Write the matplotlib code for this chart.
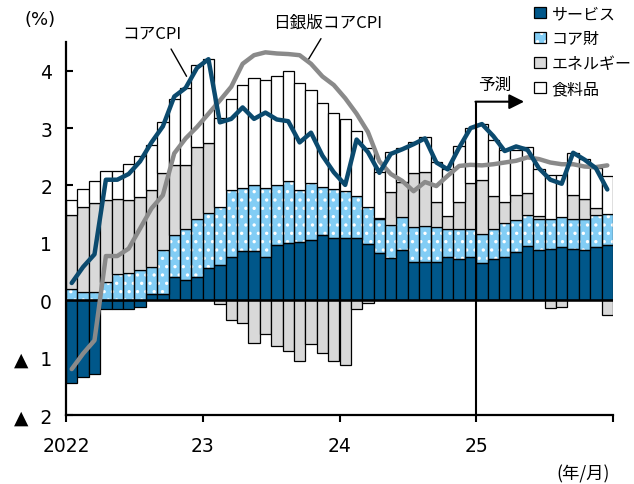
import matplotlib
matplotlib.use("Agg")
import matplotlib.pyplot as plt
from matplotlib.patches import Patch
from matplotlib.legend_handler import HandlerTuple
import numpy as np

# ---- data (2022/01 - 2025/12, monthly; 2025 onward is forecast) ----
services = [-1.45, -1.34, -1.29, -0.16, -0.16, -0.16, -0.11, 0.10, 0.10, 0.41, 0.36, 0.41,
            0.56, 0.61, 0.76, 0.86, 0.86, 0.76, 0.96, 1.00, 1.01, 1.05, 1.14, 1.08,
            1.08, 1.08, 0.98, 0.83, 0.73, 0.88, 0.67, 0.67, 0.67, 0.76, 0.72, 0.76,
            0.65, 0.72, 0.76, 0.84, 0.95, 0.88, 0.90, 0.92, 0.89, 0.88, 0.92, 0.96]
core_goods = [0.20, 0.15, 0.15, 0.31, 0.45, 0.47, 0.52, 0.48, 0.78, 0.72, 0.88, 1.00,
              0.96, 1.02, 1.16, 1.09, 1.15, 1.19, 1.05, 1.08, 0.91, 1.00, 0.84, 0.86,
              0.83, 0.73, 0.65, 0.59, 0.58, 0.57, 0.61, 0.63, 0.60, 0.48, 0.52, 0.49,
              0.50, 0.52, 0.59, 0.56, 0.54, 0.53, 0.52, 0.53, 0.52, 0.54, 0.56, 0.55]
energy = [1.29, 1.47, 1.54, 1.44, 1.32, 1.28, 1.28, 1.34, 1.34, 1.22, 1.11, 1.26,
          1.22, -0.07, -0.34, -0.40, -0.74, -0.58, -0.79, -0.88, -1.06, -0.77, -0.92, -1.06,
          -1.12, -0.15, -0.05, 0.02, 0.58, 0.61, 0.94, 0.94, 0.45, 0.22, 0.48, 0.79,
          0.95, 0.57, 0.37, 0.43, 0.37, 0.06, -0.13, -0.12, 0.42, 0.34, 0.12, -0.25]
food = [0.25, 0.32, 0.39, 0.51, 0.49, 0.62, 0.71, 0.79, 0.88, 1.15, 1.35, 1.43,
        1.47, 1.54, 1.58, 1.80, 1.87, 1.88, 1.90, 1.92, 1.86, 1.62, 1.45, 1.33,
        1.24, 1.14, 1.02, 0.80, 0.70, 0.59, 0.53, 0.60, 0.69, 0.82, 0.97, 0.96,
        0.97, 0.99, 0.89, 0.79, 0.81, 0.82, 0.76, 0.73, 0.74, 0.70, 0.70, 0.65]
core_cpi = [0.30, 0.58, 0.80, 2.10, 2.10, 2.20, 2.42, 2.75, 3.03, 3.55, 3.70, 4.05,
            4.20, 3.10, 3.16, 3.36, 3.16, 3.27, 3.15, 3.12, 2.75, 2.92, 2.52, 2.23,
            2.01, 2.80, 2.58, 2.22, 2.55, 2.63, 2.72, 2.82, 2.40, 2.28, 2.66, 3.00,
            3.07, 2.86, 2.60, 2.68, 2.62, 2.30, 2.10, 2.03, 2.57, 2.45, 2.30, 1.93]
boj_core = [-1.20, -0.93, -0.70, 0.77, 0.77, 0.90, 1.25, 1.60, 1.83, 2.56, 2.82, 3.02,
            3.25, 3.48, 3.72, 4.12, 4.27, 4.32, 4.30, 4.29, 4.27, 4.12, 3.90, 3.75,
            3.52, 3.25, 2.93, 2.42, 2.20, 2.08, 1.90, 2.06, 1.99, 2.17, 2.34, 2.36,
            2.35, 2.37, 2.40, 2.43, 2.49, 2.46, 2.40, 2.37, 2.37, 2.33, 2.32, 2.35]
x_tick_labels = ["2022", "23", "24", "25", ""]
y_tick_labels = ["▲  2", "▲  1", "0", "1", "2", "3", "4"]
legend_labels = ["サービス", "コア財", "エネルギー", "食料品"]
forecast_start = 36

# ---- style ----
C_SERV = "#00578A"
C_GOODS = "#82CDF5"
C_ENER = "#D9D9D9"
C_FOOD = "#FFFFFF"
C_CORE = "#0B4A6E"
C_BOJ = "#8A8A8A"
JP = ["Noto Sans CJK JP", "DejaVu Sans"]

plt.rcParams["font.family"] = ["DejaVu Sans", "Noto Sans CJK JP"]
plt.rcParams["hatch.linewidth"] = 1.2

fig = plt.figure(figsize=(6.34, 4.85), dpi=100)
ax = fig.add_axes([66 / 634, 1 - 416 / 485, (613 - 66) / 634, (416 - 43) / 485])

n = len(services)
x = np.arange(n) + 0.5
comps = [services, core_goods, energy, food]
colors = [C_SERV, C_GOODS, C_ENER, C_FOOD]

pos_base = np.zeros(n)
neg_base = np.zeros(n)
for vals, col in zip(comps, colors):
    v = np.array(vals)
    base = np.where(v >= 0, pos_base, neg_base)
    if col == C_GOODS:
        ax.bar(x, v, width=1.0, bottom=base, color=col, edgecolor="white",
               hatch="..", linewidth=0, zorder=2)
        ax.bar(x, v, width=1.0, bottom=base, facecolor="none", edgecolor="black",
               linewidth=0.9, zorder=2.5)
    else:
        ax.bar(x, v, width=1.0, bottom=base, color=col, edgecolor="black",
               linewidth=0.9, zorder=2.5)
    pos_base = np.where(v >= 0, pos_base + v, pos_base)
    neg_base = np.where(v < 0, neg_base + v, neg_base)

ax.axhline(0, color="black", lw=1.8, zorder=3)

ax.plot(x, boj_core, color=C_BOJ, lw=3.2, zorder=4, solid_joinstyle="round",
        solid_capstyle="round")
ax.plot(x, core_cpi, color=C_CORE, lw=3.2, zorder=5, solid_joinstyle="round",
        solid_capstyle="round")

ax.set_xlim(0, n)
ax.set_ylim(-2, 4.5)
ax.set_xticks([0, 12, 24, 36, 48])
ax.set_xticklabels(x_tick_labels, fontsize=13.5)
ax.set_yticks([-2, -1, 0, 1, 2, 3, 4])
ax.set_yticklabels(y_tick_labels, fontsize=13.5)
ax.tick_params(axis="y", direction="in", length=5, width=1.5, pad=10)
ax.tick_params(axis="x", direction="out", length=5, width=1.5, pad=10)
for sp in ["top", "right"]:
    ax.spines[sp].set_visible(False)
for sp in ["left", "bottom"]:
    ax.spines[sp].set_linewidth(1.6)

# forecast marker
ax.plot([forecast_start, forecast_start], [-2, 3.46], color="black", lw=1.5,
        zorder=6, clip_on=False, solid_capstyle="butt")
ax.annotate("", xy=(forecast_start + 4.2, 3.46), xytext=(forecast_start - 0.07, 3.46),
            arrowprops=dict(arrowstyle="-|>,head_length=0.9,head_width=0.45",
                            color="black", lw=1.5, shrinkA=0, shrinkB=0), zorder=6)
fig.text(495 / 634, 1 - 85 / 485, "予測", family=JP, fontsize=12,
         ha="center", va="center")

# series labels with leader lines
fig.text(152 / 634, 1 - 34 / 485, "コアCPI", family=JP, fontsize=12,
         ha="center", va="center")
ax.annotate("", xy=(10.7, 3.86), xytext=(9.1, 4.42),
            arrowprops=dict(arrowstyle="-", color="black", lw=1.0), annotation_clip=False)
fig.text(328 / 634, 1 - 23 / 485, "日銀版コアCPI", family=JP, fontsize=12,
         ha="center", va="center")
ax.annotate("", xy=(21.1, 4.14), xytext=(22.5, 4.60),
            arrowprops=dict(arrowstyle="-", color="black", lw=1.0), annotation_clip=False)

fig.text(40 / 634, 1 - 20 / 485, "(%)", fontsize=13, ha="center", va="center")
fig.text(583 / 634, 1 - 474 / 485, "(年/月)", family=JP, fontsize=12.5,
         ha="center", va="center")

# legend
h_serv = Patch(facecolor=C_SERV, edgecolor="black", linewidth=0.9)
h_goods = (Patch(facecolor=C_GOODS, edgecolor="white", hatch="..", linewidth=0),
           Patch(facecolor="none", edgecolor="black", linewidth=0.9))
h_ener = Patch(facecolor=C_ENER, edgecolor="black", linewidth=0.9)
h_food = Patch(facecolor=C_FOOD, edgecolor="black", linewidth=0.9)
leg = fig.legend([h_serv, h_goods, h_ener, h_food], legend_labels,
                 loc="upper left", bbox_to_anchor=(534 / 634, 1 - 6 / 485),
                 frameon=False, prop={"family": JP, "size": 11.5},
                 handlelength=0.75, handleheight=0.75, handletextpad=0.35,
                 labelspacing=0.5, borderpad=0, borderaxespad=0,
                 handler_map={tuple: HandlerTuple(ndivide=1, pad=0)})

fig.savefig("out.png", dpi=100)
